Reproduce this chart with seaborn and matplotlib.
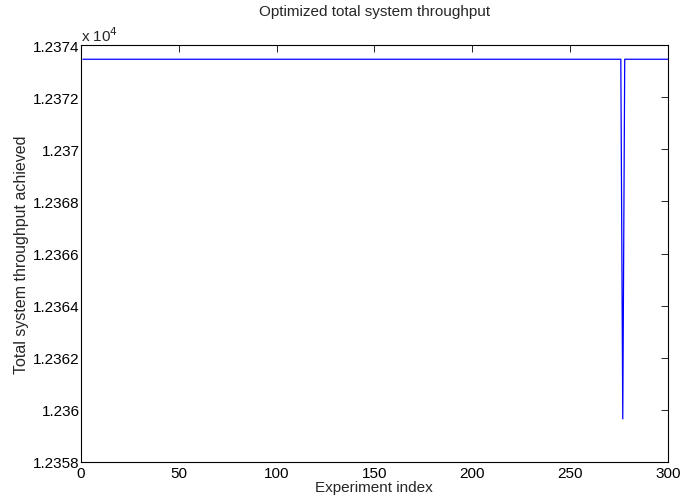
import numpy as np
import pandas as pd
import seaborn as sns
import matplotlib.pyplot as plt

# Datos
n_experiments = 300
baseline = 12373.46   # valor constante
dip_index = 277        # experimento con la caida
dip_value = 12359.65

experiments = list(range(1, n_experiments + 1))
throughput = [baseline] * n_experiments
throughput[dip_index - 1] = dip_value

df = pd.DataFrame({"experiment": experiments, "throughput": np.array(throughput) / 1e4})

sns.set_style("white")
plt.rcParams['font.family'] = ['Liberation Sans', 'DejaVu Sans']

fig = plt.figure(figsize=(6.8, 5.02), dpi=100)
ax = fig.add_axes([0.119, 0.078, 0.863, 0.830])

sns.lineplot(data=df, x="experiment", y="throughput", color=(0, 0, 1), linewidth=0.9, ax=ax)

ax.set_xlim(0, 300)
ax.set_ylim(1.2358, 1.2374)
ax.set_xticks(np.arange(0, 301, 50))
yt = np.arange(1.2358, 1.23741, 0.0002)
ax.set_yticks(yt)
ax.set_yticklabels(['{:g}'.format(round(v, 4)) for v in yt])

for s in ax.spines.values():
    s.set_color('black')
    s.set_linewidth(0.8)
ax.tick_params(direction='in', length=5, width=0.6, top=True, right=True,
               labelsize=11, colors='black')
ax.tick_params(axis='x', pad=3)
ax.tick_params(axis='y', pad=1)

ax.set_xlabel('Experiment index', fontsize=11, labelpad=0)
ax.set_ylabel('Total system throughput achieved', fontsize=11.5, labelpad=3)
ax.set_title('Optimized total system throughput', fontsize=11, pad=22)
ax.text(0.0, 1.004, r'x 10$^4$', transform=ax.transAxes, fontsize=11, va='bottom', ha='left')

fig.savefig('out.png', dpi=100)
